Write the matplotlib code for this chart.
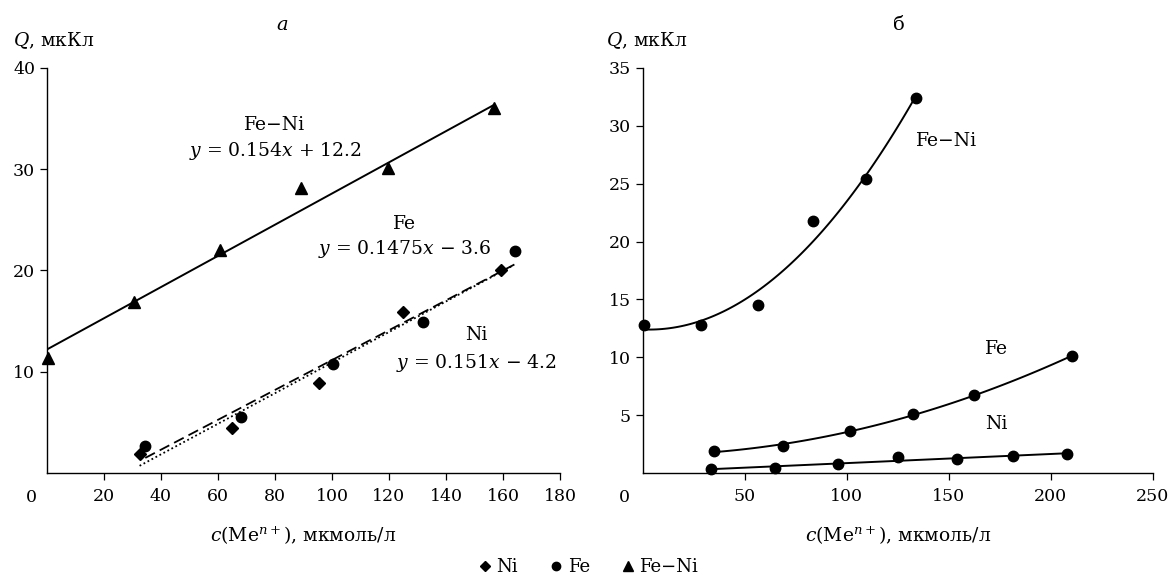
import numpy as np
import matplotlib
matplotlib.use('Agg')
import matplotlib.pyplot as plt
from matplotlib.lines import Line2D

plt.rcParams['font.family'] = ['DejaVu Serif']
plt.rcParams['mathtext.fontset'] = 'dejavuserif'
plt.rcParams['font.size'] = 12.5

# --- панель a: данные ---
a_ni_x = [32.5, 64.9, 95.5, 125.0, 159.4]
a_ni_y = [1.9, 4.4, 8.9, 15.9, 20.0]
a_fe_x = [34.5, 68.0, 100.4, 131.9, 164.3]
a_fe_y = [2.7, 5.5, 10.8, 14.9, 21.9]
a_feni_x = [0.3, 30.6, 60.7, 89.1, 119.5, 157.0]
a_feni_y = [11.4, 16.9, 22.0, 28.1, 30.1, 36.0]
# коэффициенты линий тренда (k, b)
a_feni_fit = [0.154, 12.2]
a_fe_fit = [0.1475, -3.6]
a_ni_fit = [0.151, -4.2]

# --- панель б: данные ---
b_feni_x = [0.5, 28.6, 56.4, 83.6, 109.7, 134.0]
b_feni_y = [12.8, 12.8, 14.5, 21.8, 25.4, 32.4]
b_fe_x = [34.8, 68.7, 101.5, 132.5, 162.4, 210.4]
b_fe_y = [1.9, 2.3, 3.6, 5.1, 6.7, 10.1]
b_ni_x = [33.5, 65.0, 95.8, 125.3, 154.0, 181.4, 208.0]
b_ni_y = [0.35, 0.4, 0.8, 1.4, 1.2, 1.45, 1.65]

fig = plt.figure(figsize=(11.74, 5.78), dpi=100)
ax1 = fig.add_axes([0.040, 0.1817, 0.437, 0.7007])
ax2 = fig.add_axes([0.5474, 0.1817, 0.4344, 0.7007])

for ax in (ax1, ax2):
    ax.spines['top'].set_visible(False)
    ax.spines['right'].set_visible(False)
    ax.spines['left'].set_linewidth(1.0)
    ax.spines['bottom'].set_linewidth(1.0)
    ax.tick_params(direction='out', length=5, width=0.9, labelsize=12.5)
    ax.tick_params(axis='x', pad=6)

# панель a
xx = np.linspace(0, 157, 50)
ax1.plot(xx, a_feni_fit[0] * xx + a_feni_fit[1], color='black', lw=1.4)
xx = np.linspace(34.5, 164, 50)
ax1.plot(xx, a_fe_fit[0] * xx + a_fe_fit[1], color='black', lw=1.3, ls=(0, (6, 3)))
xx = np.linspace(32.5, 163, 50)
ax1.plot(xx, a_ni_fit[0] * xx + a_ni_fit[1], color='black', lw=1.3, ls=(0, (1, 1.5)))
ax1.plot(a_ni_x, a_ni_y, 'D', color='black', ms=6.5, clip_on=False)
ax1.plot(a_fe_x, a_fe_y, 'o', color='black', ms=7.5, clip_on=False)
ax1.plot(a_feni_x, a_feni_y, '^', color='black', ms=9, clip_on=False)

ax1.set_xlim(0, 180)
ax1.set_ylim(0, 40)
ax1.set_xticks(range(20, 181, 20))
ax1.set_yticks([10, 20, 30, 40])
ax1.annotate('0', (0, 0), xytext=(-11.5, -11.5), textcoords='offset points',
             ha='center', va='top', fontsize=12.5)
ax1.text(80, 33.9, 'Fe−Ni', ha='center', fontsize=13.5)
ax1.text(80, 31.3, r'$y$ = 0.154$x$ + 12.2', ha='center', fontsize=13.5)
ax1.text(125.5, 24.1, 'Fe', ha='center', fontsize=13.5)
ax1.text(125.5, 21.6, r'$y$ = 0.1475$x$ − 3.6', ha='center', fontsize=13.5)
ax1.text(150.5, 13.1, 'Ni', ha='center', fontsize=13.5)
ax1.text(150.5, 10.4, r'$y$ = 0.151$x$ − 4.2', ha='center', fontsize=13.5)
ax1.set_xlabel(r'$c$(Me$^{n+}$), мкмоль/л', fontsize=13.5, labelpad=14)
fig.text(0.011, 0.911, r'$Q$, мкКл', fontsize=13.5, va='bottom')
fig.text(0.2405, 0.942, r'$a$', fontsize=14, ha='center', va='bottom')

# панель б
c = np.polyfit(b_feni_x, b_feni_y, 2)
xx = np.linspace(0, b_feni_x[-1], 100)
ax2.plot(xx, np.polyval(c, xx), color='black', lw=1.4)
c = np.polyfit(b_fe_x, b_fe_y, 2)
xx = np.linspace(b_fe_x[0], b_fe_x[-1], 100)
ax2.plot(xx, np.polyval(c, xx), color='black', lw=1.4)
c = np.polyfit(b_ni_x, b_ni_y, 1)
xx = np.linspace(b_ni_x[0], b_ni_x[-1], 100)
ax2.plot(xx, np.polyval(c, xx), color='black', lw=1.4)
ax2.plot(b_feni_x, b_feni_y, 'o', color='black', ms=7.5, clip_on=False)
ax2.plot(b_fe_x, b_fe_y, 'o', color='black', ms=7.5, clip_on=False)
ax2.plot(b_ni_x, b_ni_y, 'o', color='black', ms=7.5, clip_on=False)

ax2.set_xlim(0, 250)
ax2.set_ylim(0, 35)
ax2.set_xticks([50, 100, 150, 200, 250])
ax2.set_yticks([5, 10, 15, 20, 25, 30, 35])
ax2.annotate('0', (0, 0), xytext=(-13.5, -11.5), textcoords='offset points',
             ha='center', va='top', fontsize=12.5)
ax2.text(134, 28.3, 'Fe−Ni', ha='left', fontsize=13.5)
ax2.text(168, 10.3, 'Fe', ha='left', fontsize=13.5)
ax2.text(168, 3.8, 'Ni', ha='left', fontsize=13.5)
ax2.set_xlabel(r'$c$(Me$^{n+}$), мкмоль/л', fontsize=13.5, labelpad=14)
fig.text(0.516, 0.911, r'$Q$, мкКл', fontsize=13.5, va='bottom')
fig.text(0.766, 0.942, 'б', fontsize=14, ha='center', va='bottom')

handles = [Line2D([], [], ls='none', marker='D', color='black', ms=5.5),
           Line2D([], [], ls='none', marker='o', color='black', ms=6),
           Line2D([], [], ls='none', marker='^', color='black', ms=7)]
fig.legend(handles, ['Ni', 'Fe', 'Fe−Ni'], loc='lower center', ncol=3,
           bbox_to_anchor=(0.5, -0.025), frameon=False, fontsize=13,
           handletextpad=0.15, columnspacing=1.6, handlelength=1.0)

fig.savefig('out.png', dpi=100)
